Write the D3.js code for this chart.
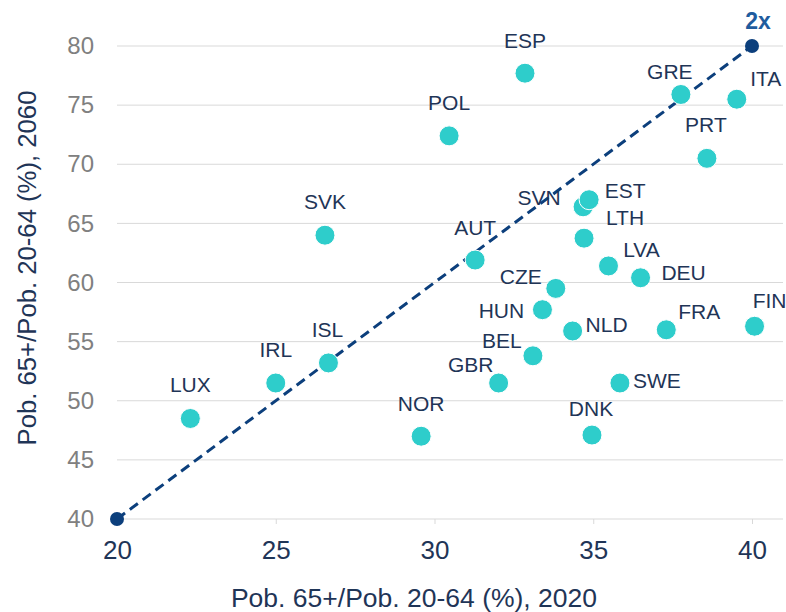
<!doctype html>
<html>
<head>
<meta charset="utf-8"/>
<title>Pob. 65+ / Pob. 20-64</title>
<script src="https://d3js.org/d3.v7.min.js"></script>
<style>
 body { margin:0; background:#fff; }
 text { font-family: "Liberation Sans", Arial, sans-serif; }
</style>
</head>
<body>
<script>
// datos: ratio 65+/20-64 en 2020 y 2060
var paises = ["ESP","POL","SVK","AUT","GRE","ITA","PRT","SVN","EST","LTH","LVA","DEU","CZE",
              "HUN","NLD","FRA","FIN","BEL","GBR","SWE","NOR","DNK","LUX","IRL","ISL"];
var x2020 = [32.85,30.46,26.55,31.28,37.76,39.52,38.58,34.68,34.87,34.71,35.48,36.49,33.82,
             33.40,34.35,37.30,40.08,33.10,32.02,35.84,29.58,34.96,22.31,25.0,26.66];
var y2060 = [77.7,72.4,64.0,61.9,75.9,75.5,70.5,66.4,67.0,63.75,61.4,60.4,59.5,
             57.7,55.9,56.0,56.3,53.8,51.5,51.5,47.0,47.1,48.5,51.5,53.2];
// linea 2x
var lineaX = [20, 40];
var lineaY = [40, 80];
var ticksX = [20, 25, 30, 35, 40];
var ticksY = [40, 45, 50, 55, 60, 65, 70, 75, 80];

// donde va cada etiqueta respecto al punto (px)
var etiq = {
  ESP:[0,-33], POL:[0,-33], SVK:[0,-34], AUT:[0,-32], GRE:[-11,-23], ITA:[29,-21],
  PRT:[-1,-34], SVN:[-44,-9], EST:[36,-9], LTH:[41,-21], LVA:[33,-16], DEU:[43,-5],
  CZE:[-35,-12], HUN:[-41,1], NLD:[34,-6], FRA:[33,-18], FIN:[15,-26], BEL:[-31,-15],
  GBR:[-28,-18], SWE:[37,-2], NOR:[0,-33], DNK:[-1,-26], LUX:[0,-34], IRL:[0,-33], ISL:[-1,-33]
};

var W = 786, H = 612;
var svg = d3.select("body").append("svg").attr("width", W).attr("height", H);

var x = d3.scaleLinear().domain([20, 40]).range([117, 752]);
var y = d3.scaleLinear().domain([40, 80]).range([519, 46]);

// rejilla
svg.append("g").selectAll("line").data(ticksY).enter().append("line")
  .attr("x1", 117).attr("x2", 783)
  .attr("y1", function(d){ return y(d); }).attr("y2", function(d){ return y(d); })
  .attr("stroke", "#d9d9d9").attr("stroke-width", 1);

// eje x
var gx = svg.append("g").attr("transform", "translate(0," + y(40) + ")")
  .call(d3.axisBottom(x).tickValues(ticksX).tickSize(5).tickPadding(17));
gx.select(".domain").remove();
gx.selectAll("line").attr("stroke", "#d9d9d9");
gx.selectAll("text").attr("font-size", 26).attr("fill", "#1f3557")
  .style("font-family", "Liberation Sans, Arial, sans-serif");

// eje y
var gy = svg.append("g").attr("transform", "translate(117,0)")
  .call(d3.axisLeft(y).tickValues(ticksY).tickSize(0).tickPadding(23));
gy.select(".domain").remove();
gy.selectAll("text").attr("font-size", 24).attr("fill", "#808080")
  .style("font-family", "Liberation Sans, Arial, sans-serif");

// titulos
svg.append("text").attr("x", 414).attr("y", 607).attr("text-anchor", "middle")
  .attr("font-size", 26.5).attr("fill", "#1f3557").text("Pob. 65+/Pob. 20-64 (%), 2020");
svg.append("text").attr("transform", "translate(36,268) rotate(-90)").attr("text-anchor", "middle")
  .attr("font-size", 25.7).attr("fill", "#1f3557").text("Pob. 65+/Pob. 20-64 (%), 2060");

// linea 2x
svg.append("line")
  .attr("x1", x(lineaX[0])).attr("y1", y(lineaY[0]))
  .attr("x2", x(lineaX[1])).attr("y2", y(lineaY[1]))
  .attr("stroke", "#0c3f7c").attr("stroke-width", 3).attr("stroke-dasharray", "10,6");

// puntos paises
var datos = paises.map(function(p, i){ return {p:p, x:x2020[i], y:y2060[i]}; });
svg.append("g").selectAll("circle").data(datos).enter().append("circle")
  .attr("cx", function(d){ return x(d.x); }).attr("cy", function(d){ return y(d.y); })
  .attr("r", 10).attr("fill", "#2ecdcb").attr("stroke", "#fff").attr("stroke-width", 1);

svg.append("g").selectAll("circle").data([0, 1]).enter().append("circle")
  .attr("cx", function(i){ return x(lineaX[i]); }).attr("cy", function(i){ return y(lineaY[i]); })
  .attr("r", 7).attr("fill", "#0c3f7c");

svg.append("text").attr("x", x(lineaX[1]) + 6).attr("y", y(lineaY[1]) - 17)
  .attr("text-anchor", "middle").attr("font-size", 23).attr("font-weight", "bold")
  .attr("fill", "#1f5c9e").text("2x");

// etiquetas
svg.append("g").selectAll("text").data(datos).enter().append("text")
  .attr("x", function(d){ return x(d.x) + etiq[d.p][0]; })
  .attr("y", function(d){ return y(d.y) + etiq[d.p][1]; })
  .attr("dy", "0.35em").attr("text-anchor", "middle")
  .attr("font-size", 21).attr("fill", "#1f3557")
  .text(function(d){ return d.p; });
</script>
</body>
</html>
